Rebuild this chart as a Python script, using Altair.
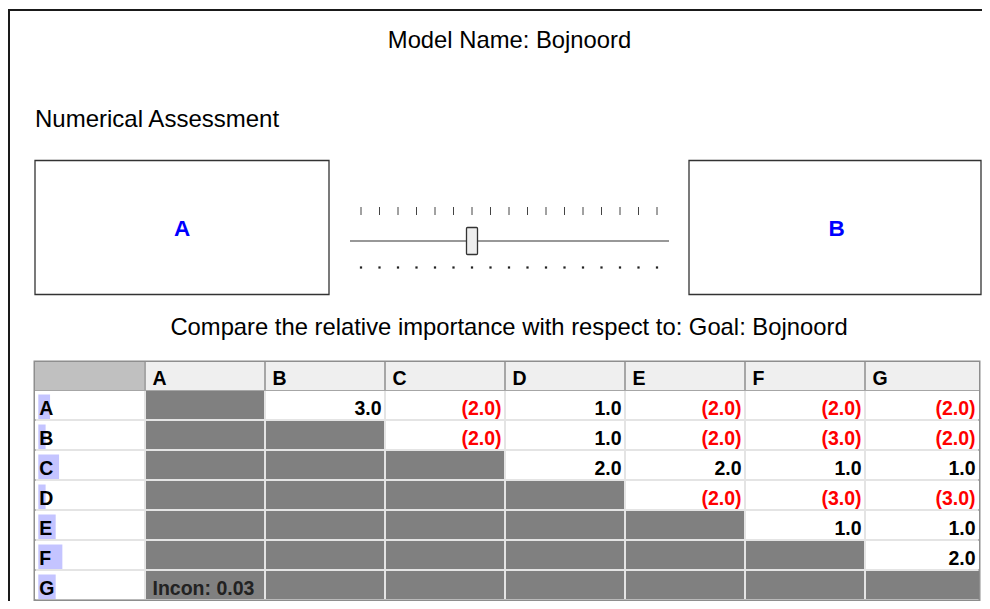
import altair as alt
import pandas as pd

# ------------------------------------------------------------------ data
model_name = "Bojnoord"
goal_name = "Goal: Bojnoord"
criteria = ["A", "B", "C", "D", "E", "F", "G"]
# upper-triangle pairwise judgments (row vs. later columns);
# positive = row more important, negative = column more important (shown red, in brackets)
row_A = [3.0, -2.0, 1.0, -2.0, -2.0, -2.0]
row_B = [-2.0, 1.0, -2.0, -3.0, -2.0]
row_C = [2.0, 2.0, 1.0, 1.0]
row_D = [-2.0, -3.0, -3.0]
row_E = [1.0, 1.0]
row_F = [2.0]
priorities = [0.111, 0.069, 0.196, 0.069, 0.164, 0.227, 0.164]
inconsistency = 0.03
slider_labels = [9, 8, 7, 6, 5, 4, 3, 2, 1, 2, 3, 4, 5, 6, 7, 8, 9]
pair_left, pair_right = "A", "B"

# ------------------------------------------------------------------ layout (page pixels)
FONT = "Liberation Sans"
W, H = 974, 593
XS = alt.Scale(domain=[8, 8 + W], nice=False, zero=False)
YS = alt.Scale(domain=[8, 8 + H], nice=False, zero=False, reverse=True)


def X(f):
    return alt.X(f"{f}:Q", scale=XS, axis=None)


def Y(f):
    return alt.Y(f"{f}:Q", scale=YS, axis=None)


TBL_L, TBL_R, TBL_T = 35, 979, 362
HDR_W, COL_W, HDR_H, ROW_H = 110, 120, 28, 30
BODY_T = TBL_T + HDR_H
col_left = [TBL_L + HDR_W + COL_W * j for j in range(len(criteria))]
col_right = [min(l + COL_W, TBL_R) for l in col_left]
row_top = [BODY_T + ROW_H * i for i in range(len(criteria))]

upper = [row_A, row_B, row_C, row_D, row_E, row_F, []]

# ------------------------------------------------------------------ frame
frame_df = pd.DataFrame({"x": [8, 9], "x2": [8 + W, 9], "y": [10, 10], "y2": [10, 8 + H]})
frame = alt.Chart(frame_df).mark_rule(strokeWidth=2, color="#1a1a1a").encode(
    x=X("x"), x2="x2", y=Y("y"), y2="y2")

# ------------------------------------------------------------------ titles
title_df = pd.DataFrame({
    "x": [509.5, 35, 509],
    "y": [48, 127, 335],
    "t": [f"Model Name: {model_name}", "Numerical Assessment",
          f"Compare the relative importance with respect to: {goal_name}"],
    "a": ["center", "left", "center"],
})
titles_c = alt.Chart(title_df[title_df.a == "center"]).mark_text(
    font=FONT, fontSize=23.8, align="center", baseline="alphabetic", color="#000"
).encode(x=X("x"), y=Y("y"), text="t:N")
titles_l = alt.Chart(title_df[title_df.a == "left"]).mark_text(
    font=FONT, fontSize=24, align="left", baseline="alphabetic", color="#000"
).encode(x=X("x"), y=Y("y"), text="t:N")

# ------------------------------------------------------------------ comparison boxes
box_df = pd.DataFrame({"x": [35, 689], "x2": [329, 981], "y": [160.5, 160.5], "y2": [294.5, 294.5],
                       "cx": [182, 836.5], "ty": [236, 236], "name": [pair_left, pair_right]})
boxes = alt.Chart(box_df).mark_rect(fill="white", stroke="#333", strokeWidth=1.3).encode(
    x=X("x"), x2="x2", y=Y("y"), y2="y2")
box_text = alt.Chart(box_df).mark_text(
    font=FONT, fontSize=22.5, fontWeight="bold", color="#0000ff", align="center", baseline="alphabetic"
).encode(x=X("cx"), y=Y("ty"), text="name:N")

# ------------------------------------------------------------------ slider
SL_X0, SL_STEP = 361, 18.5
mid = len(slider_labels) // 2
judg = row_A[0]
thumb_idx = mid - (abs(judg) - 1) if judg > 0 else mid + (abs(judg) - 1)
sl_df = pd.DataFrame({"idx": list(range(len(slider_labels))), "lab": slider_labels})
sl_df["x"] = SL_X0 + SL_STEP * sl_df["idx"]
sl_df["yt"] = 207
sl_df["yb"] = 215
sl_df["yd"] = 267.5
ticks = alt.Chart(sl_df).mark_rule(color="#444", strokeWidth=1).encode(x=X("x"), y=Y("yt"), y2="yb")
dots = alt.Chart(sl_df).mark_square(color="#222", size=5, opacity=1).encode(x=X("x"), y=Y("yd"))
track_df = pd.DataFrame({"x": [350], "x2": [669], "y": [241]})
track = alt.Chart(track_df).mark_rule(color="#333", strokeWidth=1.2).encode(x=X("x"), x2="x2", y=Y("y"))
thumb_df = pd.DataFrame({"c": [SL_X0 + SL_STEP * thumb_idx]})
thumb_df["x"] = thumb_df["c"] - 5.5
thumb_df["x2"] = thumb_df["c"] + 5.5
thumb_df["y"] = 227.5
thumb_df["y2"] = 254.5
thumb = alt.Chart(thumb_df).mark_rect(fill="#eeeeee", stroke="#333", strokeWidth=1.3, cornerRadius=1).encode(
    x=X("x"), x2="x2", y=Y("y"), y2="y2")

# ------------------------------------------------------------------ table
tbl_bg = alt.Chart(pd.DataFrame({"x": [TBL_L - 0.5], "x2": [TBL_R + 0.5], "y": [TBL_T - 0.5],
                                 "y2": [row_top[-1] + ROW_H + 0.5]})
                   ).mark_rect(fill="#e4e4e4", stroke="#8e8e8e", strokeWidth=2).encode(
    x=X("x"), x2="x2", y=Y("y"), y2="y2")
hdr_bg = alt.Chart(pd.DataFrame({"x": [TBL_L], "x2": [TBL_R], "y": [TBL_T], "y2": [BODY_T + 1]})
                   ).mark_rect(fill="#a6a6a6").encode(x=X("x"), x2="x2", y=Y("y"), y2="y2")

cells = []
cells.append({"x": TBL_L, "x2": TBL_L + HDR_W - 1, "y": TBL_T, "y2": BODY_T, "fill": "#c0c0c0"})
for j, c in enumerate(criteria):
    cells.append({"x": col_left[j] + 1, "x2": col_right[j] - (0 if j == len(criteria) - 1 else 1),
                  "y": TBL_T, "y2": BODY_T, "fill": "#efefef"})
for i, r in enumerate(criteria):
    cells.append({"x": TBL_L, "x2": TBL_L + HDR_W - 1, "y": row_top[i] + 1, "y2": row_top[i] + ROW_H - 1,
                  "fill": "#ffffff"})
    for j, c in enumerate(criteria):
        cells.append({"x": col_left[j] + 1, "x2": col_right[j] - (0 if j == len(criteria) - 1 else 1),
                      "y": row_top[i] + 1, "y2": row_top[i] + ROW_H - 1,
                      "fill": "#808080" if j <= i else "#ffffff"})
cells_df = pd.DataFrame(cells)
cell_layer = alt.Chart(cells_df).mark_rect().encode(
    x=X("x"), x2="x2", y=Y("y"), y2="y2", fill=alt.Fill("fill:N", scale=None))

BAR_SCALE = 106
pr_df = pd.DataFrame({"name": criteria, "p": priorities})
pr_df["x"] = TBL_L + 3.3
pr_df["x2"] = pr_df["x"] + pr_df["p"] * BAR_SCALE
pr_df["y"] = [t + 4.5 for t in row_top]
pr_df["y2"] = [t + ROW_H - 1 for t in row_top]
pr_bars = alt.Chart(pr_df).mark_rect(fill="#c4c4ff").encode(x=X("x"), x2="x2", y=Y("y"), y2="y2")

lab_rows = pd.DataFrame({"t": criteria, "x": TBL_L + 4.3, "y": [t + 25 for t in row_top]})
lab_cols = pd.DataFrame({"t": criteria, "x": [l + 7.5 for l in col_left], "y": TBL_T + 23})
lab_df = pd.concat([lab_rows, lab_cols], ignore_index=True)
labels = alt.Chart(lab_df).mark_text(
    font=FONT, fontSize=19.5, fontWeight="bold", align="left", baseline="alphabetic", color="#000"
).encode(x=X("x"), y=Y("y"), text="t:N")

vals = []
for i, rowvals in enumerate(upper):
    for k, v in enumerate(rowvals):
        j = i + 1 + k
        vals.append({"x": col_right[j] - 3.5, "y": row_top[i] + 25,
                     "t": f"{v:.1f}" if v > 0 else f"({abs(v):.1f})",
                     "col": "#000000" if v > 0 else "#ff0000"})
vals_df = pd.DataFrame(vals)
values = alt.Chart(vals_df).mark_text(
    font=FONT, fontSize=19.5, fontWeight="bold", align="right", baseline="alphabetic"
).encode(x=X("x"), y=Y("y"), text="t:N", color=alt.Color("col:N", scale=None))

incon_df = pd.DataFrame({"x": [col_left[0] + 7.5], "y": [row_top[-1] + 25], "t": [f"Incon: {inconsistency:.2f}"]})
incon = alt.Chart(incon_df).mark_text(
    font=FONT, fontSize=19.5, fontWeight="bold", align="left", baseline="alphabetic", color="#222"
).encode(x=X("x"), y=Y("y"), text="t:N")

chart = alt.layer(
    frame, titles_c, titles_l, boxes, box_text, ticks, dots, track, thumb,
    tbl_bg, hdr_bg, cell_layer, pr_bars, labels, values, incon
).properties(
    width=W, height=H, padding=0, autosize=alt.AutoSizeParams(type="none"), background="white"
).configure_view(stroke=None)

chart.save("out.html", embed_options={"renderer": "svg", "actions": False})
